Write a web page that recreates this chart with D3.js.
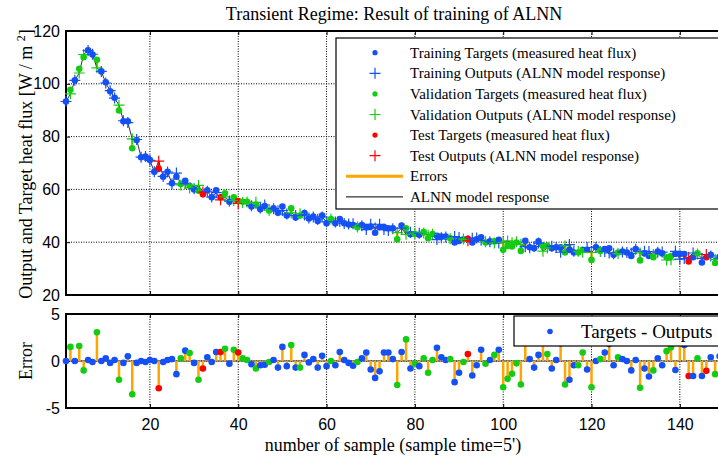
<!DOCTYPE html>
<html>
    <head>
        <meta charset="utf-8">
        <title>Transient Regime: Result of training of ALNN</title>
        <script src="https://d3js.org/d3.v7.min.js"></script>
        <style>
            body {
                margin: 0;
                background: #ffffff;
                overflow: hidden;
            }
            svg {
                display: block;
            }
            .serif {
                font-family: 'Liberation Serif', 'Times New Roman', serif;
                fill: #000;
            }
            .tick text {
                font-family: 'Liberation Sans', Arial, sans-serif;
                font-size: 16px;
                fill: #000;
            }
            .grid line {
                stroke: #000;
                stroke-width: 1;
                stroke-dasharray: 1, 1.5;
            }
        </style>
    </head>
    <body>
        <script>
            // measured heat flux per sample (targets) and error = target - output
            const targets = [
                93.3, 97.7, 101.3, 105.7, 110.1, 112.7, 111.1, 109.1, 104.7, 100.6, 97.2, 94.7, 89.9, 85.8, 85.8, 75.6, 78.7, 72.2, 72.4, 71.1,
                66.7, 67.8, 64.8, 66.7, 62.3, 64.8, 62.0, 63.3, 61.4, 60.0, 59.5, 58.2, 59.7, 57.0, 59.7, 57.0, 58.5, 55.3, 57.0, 55.6,
                55.3, 55.3, 53.5, 54.3, 52.5, 53.7, 52.0, 52.8, 51.2, 53.5, 50.1, 52.8, 49.4, 50.1, 51.0, 49.0, 49.7, 48.0, 50.1, 47.2,
                48.8, 47.2, 48.8, 47.2, 46.7, 46.5, 45.7, 46.5, 45.7, 45.9, 43.6, 45.7, 45.7, 45.3, 45.3, 41.1, 46.3, 45.3, 43.0, 43.1,
                42.8, 43.8, 41.5, 43.1, 42.4, 42.1, 42.1, 41.5, 39.9, 40.5, 41.1, 41.3, 39.9, 41.1, 41.9, 39.9, 40.3, 40.3, 40.9, 37.1,
                38.6, 38.4, 39.9, 36.7, 40.5, 38.1, 37.7, 40.3, 38.6, 38.6, 37.7, 38.1, 38.1, 36.1, 37.1, 36.1, 36.1, 37.1, 37.1, 33.3,
                38.1, 36.7, 37.4, 37.7, 35.2, 36.1, 36.5, 36.1, 34.8, 37.4, 33.1, 35.8, 34.8, 34.3, 36.5, 35.8, 34.3, 34.8, 35.6, 35.6,
                35.5, 32.7, 34.3, 35.8, 32.3, 34.3, 35.2, 32.1, 34.5, 33.8
            ];
            const errors = [
                0, 1.5, 0, 1.6, -1.0, 0.1, -0.1, 3.05, 0, 0.3, -0.2, 0.1, -2.0, -0.2, 0.5, -3.55, -0.2, 0, -0.1, 0.1,
                0, -2.9, -0.1, 0.1, 0.2, -1.4, 0.3, 1.1, 0.85, -0.2, -2.0, -0.8, 0.4, -0.1, 0.95, 0.95, 1.3, -0.3, 1.2, 0.9,
                0.3, 0.1, -0.35, -0.8, -0.45, -0.4, -0.1, 0.1, -0.7, 1.5, -0.55, 1.7, -0.7, -0.7, 0.65, -0.15, 0.2, -0.7, 0.55, -0.55,
                0, -0.45, 0.95, 0.1, -0.2, -0.5, -0.1, 0.3, 0.9, -0.9, -1.8, -1.1, 0.9, 0.9, 0.2, -2.55, 0.95, 2.3, -0.8, -0.3,
                -0.55, 0.3, -1.25, 0.1, 1.4, 0.4, 0.1, 0.2, -2.25, -1.25, -0.1, 0.75, -1.55, -0.45, 1.2, -0.3, 0.1, 0.65, 1.2, -2.8,
                -1.9, -1.35, -0.25, -2.5, 2.2, 0.2, -0.7, 0.65, 2.0, 0.75, -0.8, 0.1, 1.9, -2.5, -2.0, -0.45, -0.45, 0.9, -0.9, -2.8,
                0, 0.2, 0.9, 1.8, -0.45, 0.4, 0.2, 0, -1.0, 0.1, -2.85, -0.8, -1.65, -1.0, 0.3, -0.45, 1.05, 1.45, -0.95, 2.0,
                1.7, -1.6, -1.6, 0.3, -1.6, -1.05, 0.4, -1.4, 0.5, -0.3
            ];
            // sample numbers in the validation and test subsets (all others are training)
            const validationIdx = [2, 4, 5, 8, 13, 16, 27, 29, 31, 37, 39, 41, 42, 44, 47, 52, 54, 61, 67, 76, 78, 80, 82, 83, 84, 88, 91, 96, 98,
                100, 101, 102, 103, 104, 109, 110, 114, 117, 118, 120, 122, 126, 131, 134, 137, 138, 144, 148];
            const testIdx = [22, 32, 36, 40, 92, 142, 146];

            const xTicks = [20, 40, 60, 80, 100, 120, 140];
            const yTicksTop = [20, 40, 60, 80, 100, 120];
            const yTicksErr = [-5, 0, 5];

            const legendLabels = [
                'Training Targets (measured heat flux)',
                'Training Outputs (ALNN model response)',
                'Validation Targets (measured heat flux)',
                'Validation Outputs (ALNN model response)',
                'Test Targets (measured heat flux)',
                'Test Outputs (ALNN model response)',
                'Errors',
                'ALNN model response'
            ];

            const colors = { train: '#1450f5', val: '#14cc14', test: '#ff0000' };
            const orange = '#ffa500';

            const samples = targets.map((t, i) => {
                const n = i + 1;
                const set = testIdx.includes(n) ? 'test' : validationIdx.includes(n) ? 'val' : 'train';
                return { n, target: t, error: errors[i], output: t - errors[i], set };
            });

            const width = 718, height = 459;
            const svg = d3.select('body').append('svg').attr('width', width).attr('height', height);

            const x = d3.scaleLinear().domain([1, 150]).range([66, 724]);
            const yTop = d3.scaleLinear().domain([20, 120]).range([295, 31]);
            const yErr = d3.scaleLinear().domain([-5, 5]).range([408, 314]);
            const plainNum = (d) => String(d);

            function drawFrame(y, yTicks, showXLabels) {
                const g = svg.append('g');
                const [y0, y1] = y.range();
                // grid
                const grid = g.append('g').attr('class', 'grid');
                grid.selectAll('line.v').data(xTicks).join('line')
                    .attr('x1', (d) => x(d)).attr('x2', (d) => x(d))
                    .attr('y1', y1).attr('y2', y0);
                grid.selectAll('line.h').data(yTicks.filter((d) => y(d) > y1 + 2 && y(d) < y0 - 2)).join('line')
                    .attr('x1', x.range()[0]).attr('x2', x.range()[1])
                    .attr('y1', (d) => y(d)).attr('y2', (d) => y(d));
                // axes
                const ax = g.append('g').attr('transform', `translate(${x.range()[0]},0)`)
                    .call(d3.axisLeft(y).tickValues(yTicks).tickSize(-4).tickPadding(6).tickFormat(plainNum));
                ax.select('.domain').remove();
                const bx = g.append('g').attr('transform', `translate(0,${y0})`)
                    .call(d3.axisBottom(x).tickValues(xTicks).tickSize(-4).tickPadding(11).tickFormat(showXLabels ? plainNum : ''));
                bx.select('.domain').remove();
                g.append('g').attr('transform', `translate(0,${y1})`)
                    .call(d3.axisTop(x).tickValues(xTicks).tickSize(-4).tickFormat(''))
                    .select('.domain').remove();
                g.append('rect')
                    .attr('x', x.range()[0]).attr('y', y1)
                    .attr('width', x.range()[1] - x.range()[0]).attr('height', y0 - y1)
                    .attr('fill', 'none').attr('stroke', '#000').attr('stroke-width', 2);
                return g;
            }

            function plus(sel, size) {
                return sel.attr('d', `M${-size},0H${size}M0,${-size}V${size}`);
            }

            // ---------- top panel ----------
            drawFrame(yTop, yTicksTop, false);
            const topG = svg.append('g');
            topG.selectAll('line.err').data(samples).join('line')
                .attr('x1', (d) => x(d.n)).attr('x2', (d) => x(d.n))
                .attr('y1', (d) => yTop(d.target)).attr('y2', (d) => yTop(d.output))
                .attr('stroke', orange).attr('stroke-width', 2.5);
            topG.append('path').datum(samples)
                .attr('d', d3.line().x((d) => x(d.n)).y((d) => yTop(d.output)))
                .attr('fill', 'none').attr('stroke', '#000').attr('stroke-width', 0.8);
            topG.selectAll('circle').data(samples).join('circle')
                .attr('cx', (d) => x(d.n)).attr('cy', (d) => yTop(d.target)).attr('r', 3.3)
                .attr('fill', (d) => colors[d.set]);
            topG.selectAll('path.out').data(samples).join('path')
                .attr('class', 'out')
                .attr('transform', (d) => `translate(${x(d.n)},${yTop(d.output)})`)
                .call(plus, 5.5)
                .attr('stroke', (d) => colors[d.set]).attr('stroke-width', 1.2).attr('fill', 'none');

            // ---------- error panel ----------
            drawFrame(yErr, yTicksErr, true);
            const botG = svg.append('g');
            botG.append('line').attr('x1', x.range()[0]).attr('x2', x.range()[1])
                .attr('y1', yErr(0)).attr('y2', yErr(0)).attr('stroke', '#333').attr('stroke-width', 1);
            botG.selectAll('line.stem').data(samples).join('line')
                .attr('x1', (d) => x(d.n)).attr('x2', (d) => x(d.n))
                .attr('y1', yErr(0)).attr('y2', (d) => yErr(d.error))
                .attr('stroke', orange).attr('stroke-width', 2.5);
            botG.selectAll('circle').data(samples).join('circle')
                .attr('cx', (d) => x(d.n)).attr('cy', (d) => yErr(d.error)).attr('r', 3.3)
                .attr('fill', (d) => colors[d.set]);

            // ---------- legends ----------
            const lg = svg.append('g');
            lg.append('rect').attr('x', 336).attr('y', 38).attr('width', 390).attr('height', 171)
                .attr('fill', '#fff').attr('stroke', '#000').attr('stroke-width', 1.2);
            const legendKinds = [
                ['dot', 'train'], ['plus', 'train'], ['dot', 'val'], ['plus', 'val'], ['dot', 'test'], ['plus', 'test'], ['err'], ['line']
            ];
            legendLabels.forEach((label, i) => {
                const cy = 52.7 + i * 20.6;
                const [kind, set] = legendKinds[i];
                if (kind === 'dot') lg.append('circle').attr('cx', 375).attr('cy', cy).attr('r', 2.6).attr('fill', colors[set]);
                if (kind === 'plus') lg.append('path').attr('transform', `translate(375,${cy})`).call(plus, 5.5)
                    .attr('stroke', colors[set]).attr('stroke-width', 1.2);
                if (kind === 'err') lg.append('line').attr('x1', 346).attr('x2', 403).attr('y1', cy).attr('y2', cy)
                    .attr('stroke', orange).attr('stroke-width', 3);
                if (kind === 'line') lg.append('line').attr('x1', 346).attr('x2', 403).attr('y1', cy).attr('y2', cy)
                    .attr('stroke', '#000').attr('stroke-width', 1);
                lg.append('text').attr('class', 'serif').attr('x', 410).attr('y', cy + 5)
                    .style('font-size', '15px').text(label);
            });

            const lg2 = svg.append('g');
            lg2.append('rect').attr('x', 514).attr('y', 316).attr('width', 212).attr('height', 30)
                .attr('fill', '#fff').attr('stroke', '#000').attr('stroke-width', 1.2);
            lg2.append('circle').attr('cx', 550).attr('cy', 331.5).attr('r', 2.8).attr('fill', colors.train);
            lg2.append('text').attr('class', 'serif').attr('x', 581).attr('y', 338)
                .style('font-size', '19px').text('Targets - Outputs');

            // ---------- titles ----------
            svg.append('text').attr('class', 'serif').attr('x', 394).attr('y', 19.5)
                .attr('text-anchor', 'middle').style('font-size', '18px')
                .text('Transient Regime: Result of training of ALNN');
            svg.append('text').attr('class', 'serif').attr('x', 393).attr('y', 451)
                .attr('text-anchor', 'middle').style('font-size', '18px')
                .text("number of sample (sample time=5')");
            const yl = svg.append('text').attr('class', 'serif')
                .attr('transform', 'translate(32,164) rotate(-90)')
                .attr('text-anchor', 'middle').style('font-size', '18px');
            yl.append('tspan').text('Output and Target heat flux [W / m ');
            yl.append('tspan').attr('dy', -7).style('font-size', '12px').text('2');
            yl.append('tspan').attr('dy', 7).text(']');
            svg.append('text').attr('class', 'serif')
                .attr('transform', 'translate(32,361) rotate(-90)')
                .attr('text-anchor', 'middle').style('font-size', '18px').text('Error');
        </script>
    </body>
</html>
